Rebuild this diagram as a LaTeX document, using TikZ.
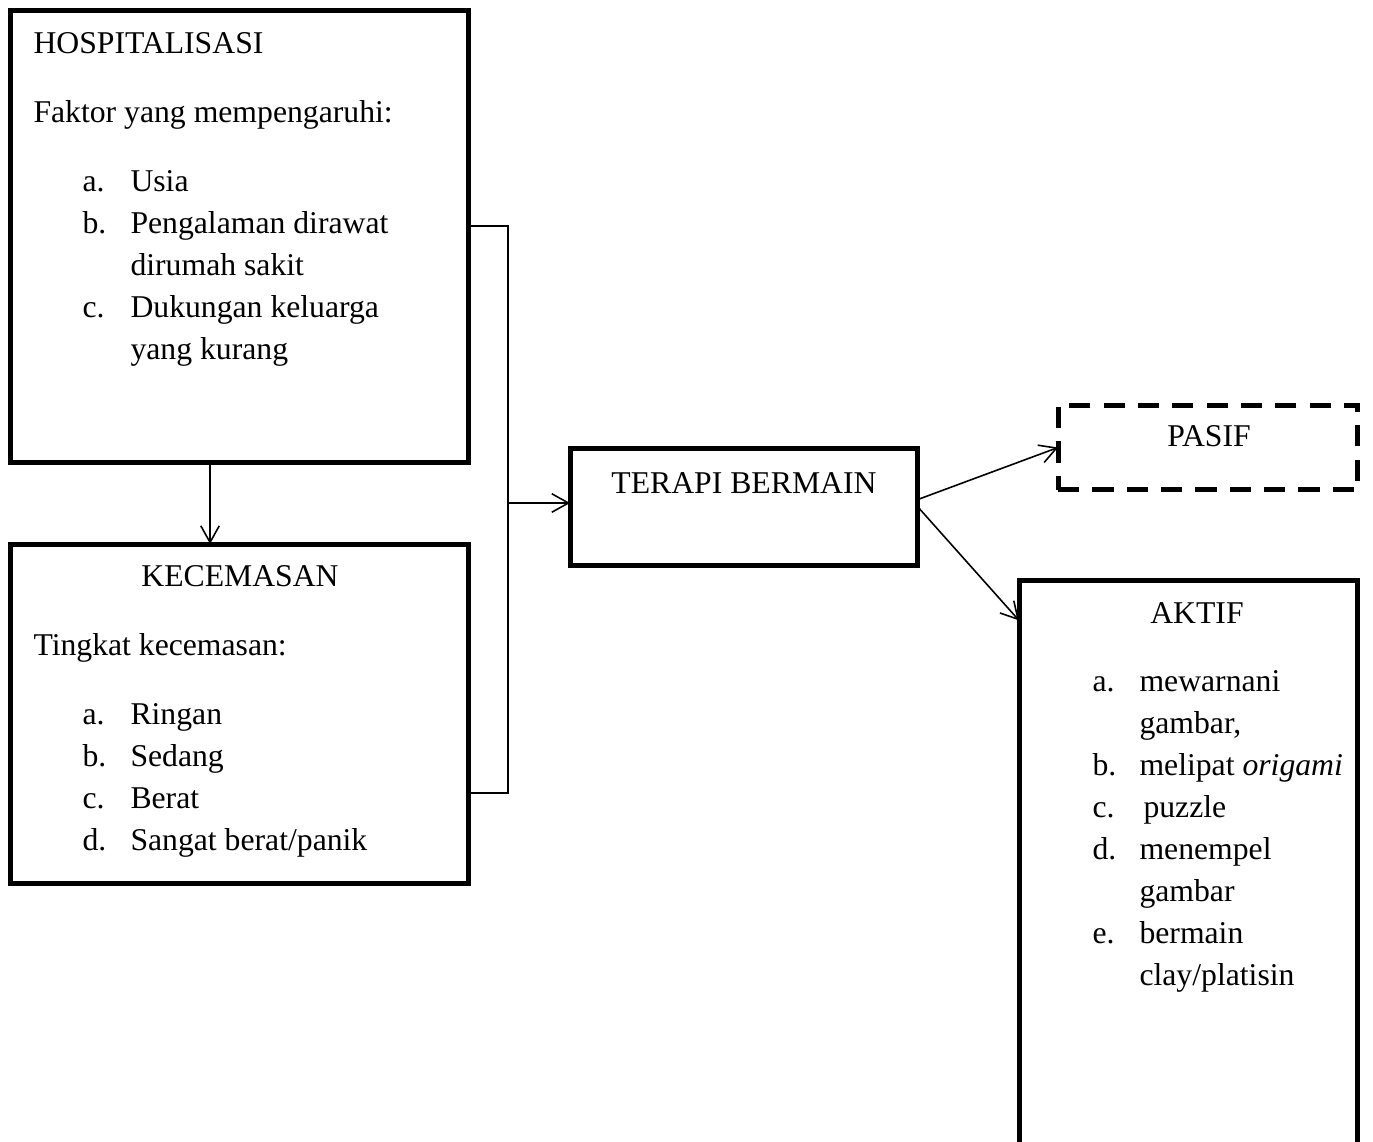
\documentclass[tikz,border=0pt,12pt]{standalone}
\usepackage{fontspec}
\setmainfont{Liberation Serif}
\usepackage{tikz}
\usetikzlibrary{arrows.meta}

\begin{document}
\begin{tikzpicture}[
  x=0.0133cm, y=-0.0133cm,
  font=\fontsize{12pt}{14pt}\selectfont,
  box/.style={rectangle, draw, line width=1.9pt, inner sep=0pt, outer sep=0pt},
  dashbox/.style={box, dash pattern=on 8pt off 5pt},
  txt/.style={anchor=base west, inner sep=0pt},
  ttl/.style={anchor=base, inner sep=0pt},
  arrow/.style={-{Straight Barb[length=6.3pt,width=7pt]}, line width=0.6pt}
]
  \useasboundingbox (0,0) rectangle (1373,1142);

  % boxes
  \node[box, minimum width=6.105cm, minimum height=6.025cm] (hosp) at (239.5,236.5) {};
  \node[box, minimum width=6.105cm, minimum height=4.522cm] (kecemasan) at (239.5,714) {};
  \node[box, minimum width=4.628cm, minimum height=1.569cm] (terapi) at (744,507) {};
  \node[dashbox, minimum width=3.99cm, minimum height=1.13cm] (pasif) at (1208,447.5) {};
  \node[box, minimum width=4.509cm, minimum height=7.714cm] (aktif) at (1188.5,870) {};

  % hospitalisasi
  \node[txt] (hospTitle) at (33,54) {HOSPITALISASI};
  \node[txt] (hospHead) at (33,123) {Faktor yang mempengaruhi:};
  \node[txt] (hospA) at (82,192) {a.};
  \node[txt] (hospAt) at (130,192) {Usia};
  \node[txt] (hospB) at (82,234) {b.};
  \node[txt] (hospBt) at (130,234) {Pengalaman dirawat};
  \node[txt] (hospBt2) at (130,276) {dirumah sakit};
  \node[txt] (hospC) at (82,318) {c.};
  \node[txt] (hospCt) at (130,318) {Dukungan keluarga};
  \node[txt] (hospCt2) at (130,360) {yang kurang};

  % kecemasan
  \node[ttl] (kecTitle) at (240,587) {KECEMASAN};
  \node[txt] (kecHead) at (33,656) {Tingkat kecemasan:};
  \node[txt] (kecA) at (82,725) {a.};
  \node[txt] (kecAt) at (130,725) {Ringan};
  \node[txt] (kecB) at (82,767) {b.};
  \node[txt] (kecBt) at (130,767) {Sedang};
  \node[txt] (kecC) at (82,809) {c.};
  \node[txt] (kecCt) at (130,809) {Berat};
  \node[txt] (kecD) at (82,851) {d.};
  \node[txt] (kecDt) at (130,851) {Sangat berat/panik};

  % terapi, pasif
  \node[ttl] (terapiTitle) at (744,494) {TERAPI BERMAIN};
  \node[ttl] (pasifTitle) at (1209,447) {PASIF};

  % aktif
  \node[ttl] (aktifTitle) at (1197,624) {AKTIF};
  \node[txt] (aktA) at (1092,692) {a.};
  \node[txt] (aktAt) at (1139,692) {mewarnani};
  \node[txt] (aktAt2) at (1139,734) {gambar,};
  \node[txt] (aktB) at (1092,776) {b.};
  \node[txt] (aktBt) at (1139,776) {melipat \textit{origami}};
  \node[txt] (aktC) at (1092,818) {c.};
  \node[txt] (aktCt) at (1143,818) {puzzle};
  \node[txt] (aktD) at (1092,860) {d.};
  \node[txt] (aktDt) at (1139,860) {menempel};
  \node[txt] (aktDt2) at (1139,902) {gambar};
  \node[txt] (aktE) at (1092,944) {e.};
  \node[txt] (aktEt) at (1139,944) {bermain};
  \node[txt] (aktEt2) at (1139,986) {clay/platisin};

  % connectors
  \coordinate (join) at (508,503);
  \draw[arrow] ([xshift=-0.392cm]hosp.south) -- ([xshift=-0.392cm]kecemasan.north);
  \draw[line width=0.6pt] ([yshift=0.14cm]hosp.east) -| (join) |- ([yshift=-1.05cm]kecemasan.east);
  \draw[arrow] (join) -- (join -| terapi.west);
  \draw[arrow] ([yshift=0.1cm]terapi.east) -- (pasif.west);
  \draw[arrow] (terapi.east) -- ([yshift=3.32cm]aktif.west);
\end{tikzpicture}
\end{document}
